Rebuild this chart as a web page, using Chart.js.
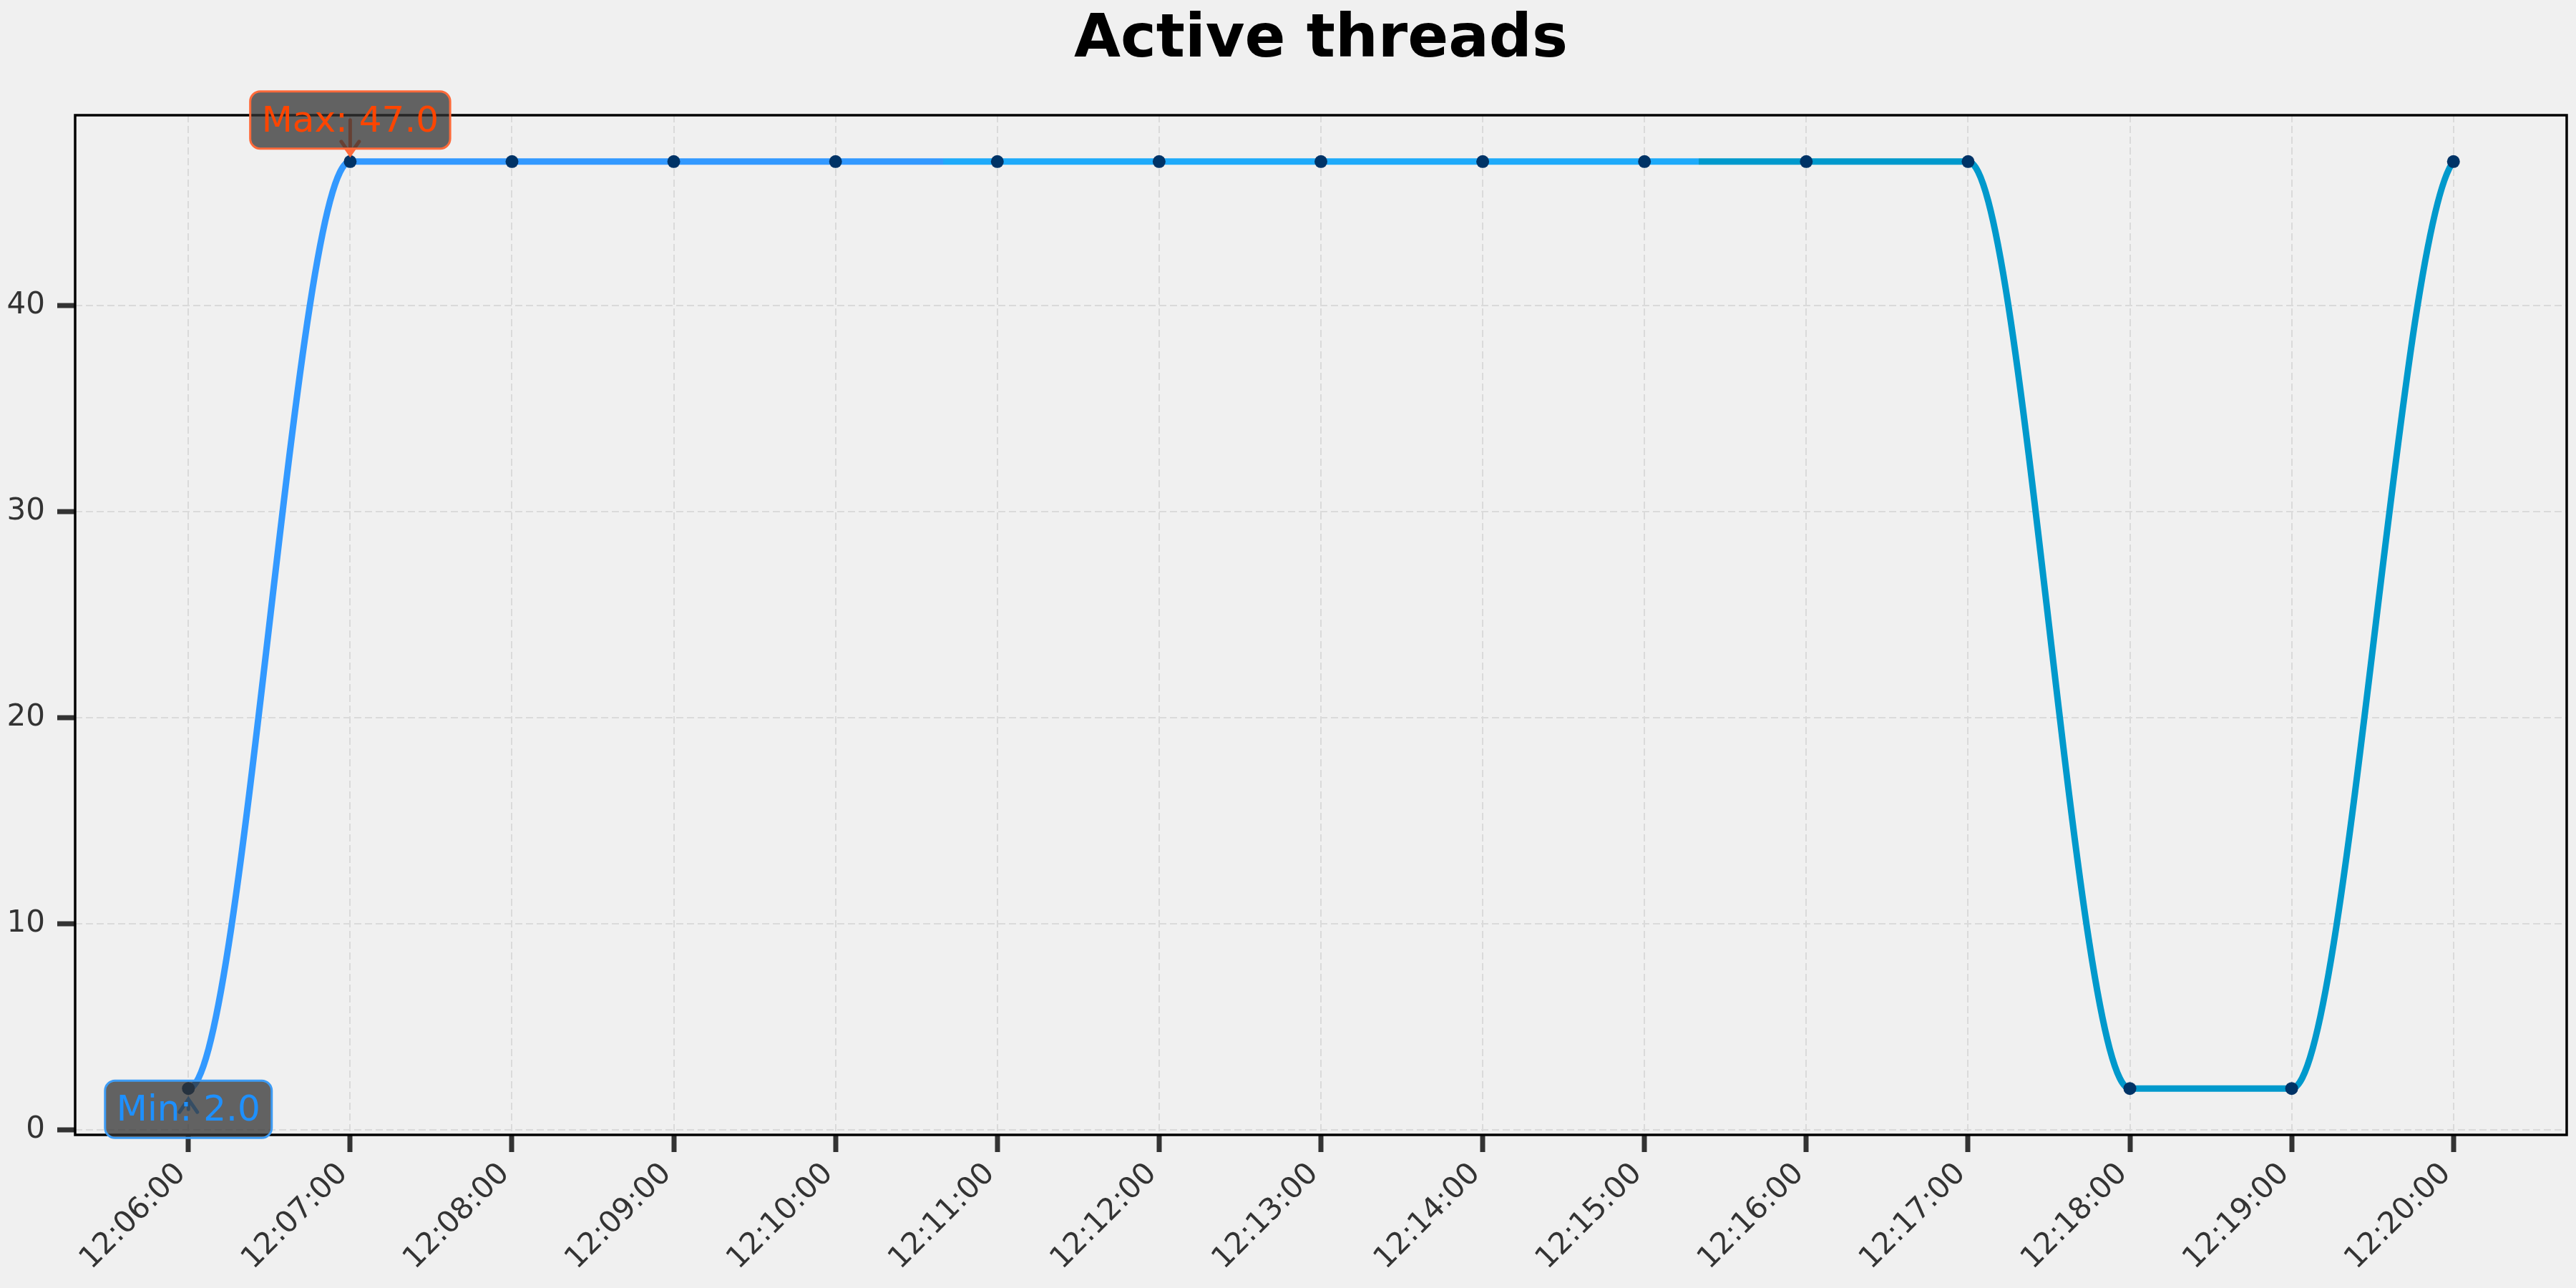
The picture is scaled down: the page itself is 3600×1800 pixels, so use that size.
<!DOCTYPE html>
<html>
<head>
<meta charset="utf-8">
<script src="https://cdn.jsdelivr.net/npm/chart.js@4/dist/chart.umd.min.js"></script>
<style>
  html, body { margin: 0; padding: 0; background: #f0f0f0; }
  #wrap { width: 3600px; height: 1800px; }
</style>
</head>
<body>
<div id="wrap"><canvas id="c" width="3600" height="1800"></canvas></div>
<script>
// ---- data ----
const timeLabels = ['12:06:00','12:07:00','12:08:00','12:09:00','12:10:00','12:11:00','12:12:00','12:13:00',
                    '12:14:00','12:15:00','12:16:00','12:17:00','12:18:00','12:19:00','12:20:00'];
const minuteOffsets = [0,1,2,3,4,5,6,7,8,9,10,11,12,13,14];
const threadCounts = [2,47,47,47,47,47,47,47,47,47,47,47,2,2,47];
const yTickValues = [0,10,20,30,40];
const segmentColors = ['#3399ff', '#1eaafa', '#0099cc'];

const FONT = '"DejaVu Sans", "Liberation Sans", sans-serif';
// how much of the monotone end tangent to keep at the first / last point (curve style)
const END_TANGENT_SCALE = [0, 0.22];

const points = minuteOffsets.map((m, i) => ({ x: m, y: threadCounts[i] }));
const maxVal = Math.max(...threadCounts), minVal = Math.min(...threadCounts);
const maxIdx = threadCounts.indexOf(maxVal), minIdx = threadCounts.indexOf(minVal);

const annotations = [
  { x: minuteOffsets[maxIdx], y: maxVal, text: 'Max: ' + maxVal.toFixed(1), color: '#ff4500', edge: '#ff6a3a', dy: -58, tip: -10 },
  { x: minuteOffsets[minIdx], y: minVal, text: 'Min: ' + minVal.toFixed(1), color: '#1e90ff', edge: '#3d9cf5', dy: 29, tip: 15 }
];

function lineGradient(context) {
  const chart = context.chart;
  const area = chart.chartArea;
  if (!area) return segmentColors[0];
  const xs = chart.scales.x;
  const x0 = xs.getPixelForValue(minuteOffsets[0]);
  const x1 = xs.getPixelForValue(minuteOffsets[minuteOffsets.length - 1]);
  const g = chart.ctx.createLinearGradient(x0, 0, x1, 0);
  const n = segmentColors.length;
  segmentColors.forEach((c, i) => {
    g.addColorStop(i / n, c);
    g.addColorStop(Math.min(1, (i + 1) / n - 1e-6), c);
  });
  return g;
}

const endTangentPlugin = {
  id: 'endTangent',
  beforeDatasetDraw(chart, args) {
    const line = args.meta.dataset;
    if (!line || !line.updateControlPoints) return;
    line.updateControlPoints(chart.chartArea, 'x');
    const pts = line.points;
    if (!pts || pts.length < 2) return;
    const f = pts[0], l = pts[pts.length - 1];
    if (f.cp2y !== undefined) f.cp2y = f.y + END_TANGENT_SCALE[0] * (f.cp2y - f.y);
    if (l.cp1y !== undefined) l.cp1y = l.y + END_TANGENT_SCALE[1] * (l.cp1y - l.y);
  }
};

const overlayPlugin = {
  id: 'overlay',
  afterDatasetsDraw(chart) {
    const ctx = chart.ctx, a = chart.chartArea;
    ctx.save();
    ctx.strokeStyle = '#000';
    ctx.lineWidth = 3.5;
    ctx.strokeRect(a.left, a.top, a.right - a.left, a.bottom - a.top);
    const xs = chart.scales.x, ys = chart.scales.y;
    annotations.forEach(an => {
      const px = xs.getPixelForValue(an.x), py = ys.getPixelForValue(an.y);
      ctx.font = '50px ' + FONT;
      const tw = ctx.measureText(an.text).width;
      const w = tw + 32, h = 80;
      const cy = py + an.dy;
      const bx = px - w / 2, by = cy - h / 2;
      // arrow
      const tipY = py + an.tip;
      const dir = an.tip < 0 ? -1 : 1;
      ctx.strokeStyle = an.edge;
      ctx.lineWidth = 5;
      ctx.lineCap = 'round';
      ctx.beginPath();
      ctx.moveTo(px, cy);
      ctx.lineTo(px, tipY);
      ctx.moveTo(px - 12.5, tipY + dir * 18);
      ctx.lineTo(px, tipY);
      ctx.lineTo(px + 12.5, tipY + dir * 18);
      ctx.stroke();
      // box
      ctx.beginPath();
      ctx.roundRect(bx, by, w, h, 14);
      ctx.fillStyle = 'rgba(51,51,51,0.75)';
      ctx.fill();
      ctx.lineWidth = 3;
      ctx.strokeStyle = an.edge;
      ctx.stroke();
      // text
      ctx.fillStyle = an.color;
      ctx.textAlign = 'center';
      ctx.textBaseline = 'alphabetic';
      ctx.fillText(an.text, px, by + h - 24);
    });
    ctx.restore();
  }
};

new Chart(document.getElementById('c'), {
  type: 'line',
  data: {
    datasets: [{
      label: 'Active threads',
      data: points,
      borderColor: lineGradient,
      borderWidth: 9,
      cubicInterpolationMode: 'monotone',
      pointRadius: 9,
      pointHoverRadius: 9,
      pointBackgroundColor: '#003366',
      pointBorderWidth: 0,
      fill: false
    }]
  },
  options: {
    responsive: false,
    devicePixelRatio: 1,
    animation: false,
    layout: { padding: { left: 0, right: 13, top: 0, bottom: 0 } },
    plugins: {
      legend: { display: false },
      tooltip: { enabled: false },
      title: {
        display: true,
        fullSize: false,
        text: 'Active threads',
        color: '#000',
        font: { family: FONT, size: 84, weight: 'bold', lineHeight: 1.0 },
        padding: { top: 15, bottom: 62 }
      }
    },
    scales: {
      x: {
        type: 'linear',
        min: -0.7,
        max: 14.7,
        afterBuildTicks: s => { s.ticks = minuteOffsets.map(v => ({ value: v })); },
        afterFit: s => { s.height = 214; },
        ticks: {
          autoSkip: false,
          minRotation: 45,
          maxRotation: 45,
          padding: 6,
          labelOffset: -10,
          color: '#333',
          font: { family: FONT, size: 42 },
          callback: v => timeLabels[minuteOffsets.indexOf(v)] ?? ''
        },
        grid: {
          color: '#dadada',
          lineWidth: 2,
          tickLength: 24,
          tickWidth: 7,
          tickColor: '#333'
        },
        border: { display: false, dash: [10, 5] }
      },
      y: {
        type: 'linear',
        min: -0.25,
        max: 49.25,
        afterBuildTicks: s => { s.ticks = yTickValues.map(v => ({ value: v })); },
        afterFit: s => { s.width = 105; },
        ticks: {
          padding: 17,
          color: '#333',
          font: { family: FONT, size: 42 },
          callback: v => String(v)
        },
        grid: {
          color: '#dadada',
          lineWidth: 2,
          tickLength: 25,
          tickWidth: 7,
          tickColor: '#333'
        },
        border: { display: false, dash: [10, 5] }
      }
    }
  },
  plugins: [endTangentPlugin, overlayPlugin]
});
</script>
</body>
</html>
